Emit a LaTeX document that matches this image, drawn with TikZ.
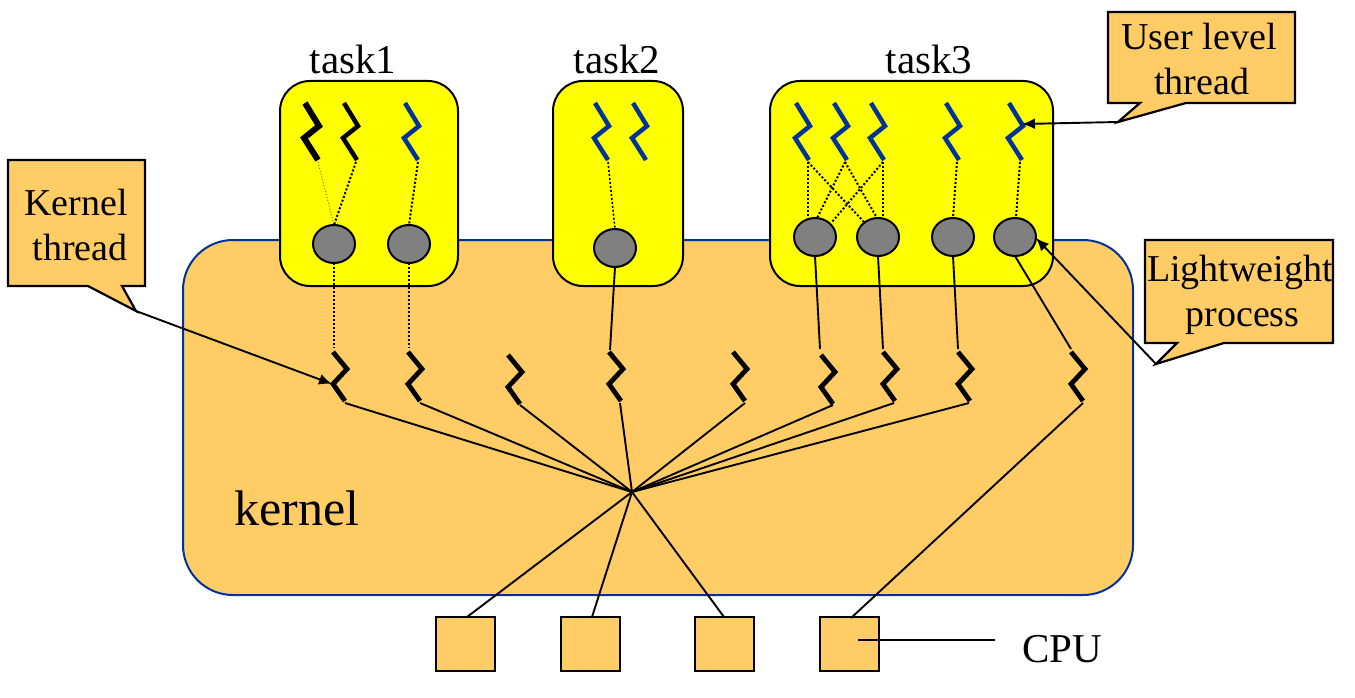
\documentclass[tikz,border=0pt]{standalone}
\usepackage{fontspec}
\setmainfont{Liberation Serif}
\usetikzlibrary{arrows.meta,shapes.geometric}
\definecolor{kfill}{HTML}{FFCC66}
\definecolor{kblue}{HTML}{003399}
\definecolor{tyellow}{HTML}{FFFF00}
\definecolor{lwp}{HTML}{808080}
\tikzset{
  x=1pt,y=-1pt,
  kernelbox/.style={draw=kblue,line width=2pt,fill=kfill,rounded corners=50pt},
  taskbox/.style={draw=black,line width=2pt,fill=tyellow,rounded corners=30pt},
  lwpnode/.style={draw=black,line width=2pt,fill=lwp,ellipse,minimum width=42pt,minimum height=38pt,inner sep=0pt,outer sep=0pt},
  cpunode/.style={draw=black,line width=2.2pt,fill=kfill,minimum width=59pt,minimum height=54pt,inner sep=0pt,outer sep=0pt},
  uthread/.style={draw=kblue,line width=4.5pt},
  uthreadk/.style={draw=black,line width=4.5pt},
  uthreadb/.style={draw=black,line width=6pt},
  kthread/.style={draw=black,line width=4.8pt},
  dot/.style={draw=black,line width=2pt,dash pattern=on 2pt off 2pt},
  conn/.style={draw=black,line width=1.9pt},
  ptr/.style={draw=black,line width=1.9pt,-{Latex[length=13pt,width=11pt]}},
  callout/.style={draw=black,line width=2.2pt,fill=kfill,line join=miter},
  lab/.style={font=\fontsize{38}{45}\selectfont,inner sep=0pt,align=center},
  ttl/.style={font=\fontsize{41}{45}\selectfont,inner sep=0pt},
}
\newcommand{\zigU}[3][uthread]{%
  \draw[#1] (#2,#3) -- ++(14,23) -- ++(-15,12) -- ++(14,22);}
\newcommand{\zigK}[2]{%
  \draw[kthread] (#1,#2) -- ++(14,17) -- ++(-14,15) -- ++(12,17);}
\begin{document}
\begin{tikzpicture}
\useasboundingbox (0,0) rectangle (1355,698);
\draw[kernelbox] (183,240) rectangle (1133,595);
\draw[taskbox] (280,81) rectangle (458,286);
\draw[taskbox] (553,81) rectangle (683,286);
\draw[taskbox] (770,81) rectangle (1053,286);
\node[ttl] (t1) at (353,59) {task1};
\node[ttl] (t2) at (617,59) {task2};
\node[ttl] (t3) at (929,59) {task3};
\zigU[uthreadb]{305}{103}
\zigU[uthreadk]{344}{103}
\zigU{405}{103}
\zigU{595}{103}
\zigU{633}{103}
\zigU{796}{103}
\zigU{834}{103}
\zigU{871}{103}
\zigU{946}{103}
\zigU{1009}{103}
\node[lwpnode] (a1) at (334,244) {};
\node[lwpnode] (a2) at (409,244) {};
\node[lwpnode] (b1) at (615,248) {};
\node[lwpnode] (c1) at (815,237) {};
\node[lwpnode] (c2) at (878,237) {};
\node[lwpnode] (c3) at (953,237) {};
\node[lwpnode] (c4) at (1015,237) {};
\coordinate (ua1) at (318,162);
\coordinate (ua2) at (356,162);
\coordinate (ua3) at (418,162);
\coordinate (ub1) at (608,162);
\coordinate (uc1) at (808,162);
\coordinate (uc2) at (845,162);
\coordinate (uc3) at (883,162);
\coordinate (uc4) at (957,162);
\coordinate (uc5) at (1020,162);
\draw[black!60!yellow,line width=1pt,dotted] (ua1) -- (a1.north);
\draw[dot] (ua2) -- (a1.north);
\draw[dot] (ua3) -- (a2.north);
\draw[dot,line width=1.6pt] (ub1) -- (b1.north);
\draw[dot] (uc1) -- (808,218);
\draw[dot] (uc1) -- (864,222);
\draw[dot] (uc2) -- (817,218);
\draw[dot] (uc2) -- (877,218);
\draw[dot] (uc3) -- (832,222);
\draw[dot] (uc3) -- (883,218);
\draw[dot] (uc4) -- (953,218);
\draw[dot] (uc5) -- (1016,218);
\zigK{333}{352}
\zigK{408}{352}
\zigK{508}{355}
\zigK{609}{352}
\zigK{733}{352}
\zigK{821}{355}
\zigK{883}{352}
\zigK{958}{352}
\zigK{1071}{352}
\draw[dot] (a1.south) -- (334,348);
\draw[dot,line width=1.4pt] (a2.south) -- (409,348);
\draw[conn] (b1.south) -- (610,350);
\draw[conn] (c1.south) -- (820,349);
\draw[conn] (c2.south) -- (883,349);
\draw[conn] (c3.south) -- (958,349);
\draw[conn] (c4.south) -- (1071,349);
\coordinate (hub) at (632,492);
\foreach \p in {(345,403),(420,403),(520,405),(620,403),(745,403),(833,405),(894,403),(969,403)}
  \draw[conn] \p -- (hub);
\node[cpunode,anchor=north west] (p1) at (436,617) {};
\node[cpunode,anchor=north west] (p2) at (561,617) {};
\node[cpunode,anchor=north west] (p3) at (695,617) {};
\node[cpunode,anchor=north west] (p4) at (820,617) {};
\draw[conn] (hub) -- (467,617);
\draw[conn] (hub) -- (592,617);
\draw[conn] (hub) -- (724,617);
\draw[conn] (1083,403) -- (851,618);
\node[lab,font=\fontsize{50}{54}\selectfont] (kn) at (297,508) {kernel};
\node[lab,font=\fontsize{41}{45}\selectfont] (cpu) at (1062,649) {CPU};
\coordinate (cpuend) at (995,640);
\draw[conn] (858,640) -- (cpuend);
\draw[callout] (1108,12) -- (1295,12) -- (1295,103) -- (1186,103) -- (1118,122) -- (1140,103) -- (1108,103) -- cycle;
\node[lab] (l1) at (1199,59) {User level\\\hspace*{5pt}thread};
\coordinate (t1a) at (1118,122);
\draw[ptr] (t1a) -- (1022,124);
\draw[callout] (8,160) -- (145,160) -- (145,286) -- (122,286) -- (136,311) -- (88,286) -- (8,286) -- cycle;
\node[lab] (l2) at (76,225) {Kernel\\\hspace*{8pt}thread};
\coordinate (t2a) at (136,311);
\draw[ptr] (t2a) -- (332,384);
\draw[callout] (1145,240) -- (1333,240) -- (1333,343) -- (1224,343) -- (1156,364) -- (1177,343) -- (1145,343) -- cycle;
\node[lab] (l3) at (1240,295) {Lightweight\\\hspace*{5pt}process};
\coordinate (t3a) at (1156,364);
\draw[ptr] (t3a) -- (1036,238);
\end{tikzpicture}
\end{document}
